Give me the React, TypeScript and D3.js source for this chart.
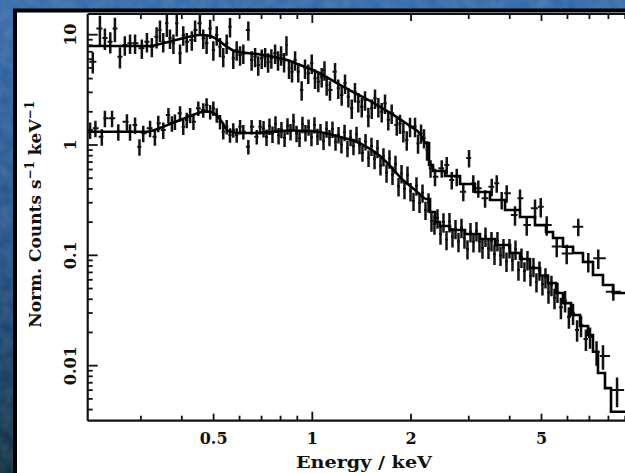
import React from 'react'
import * as d3 from 'd3'

const W = 625
const H = 473

// upper spectrum: bin centre (keV), normalised counts, fractional 1-sigma error
const upperEnergy = [
  0.214, 0.225, 0.233, 0.242, 0.250, 0.259, 0.268, 0.278, 0.288, 0.302,
  0.313, 0.324, 0.335, 0.343, 0.351, 0.360, 0.368, 0.377, 0.386, 0.395,
  0.404, 0.414, 0.429, 0.439, 0.454, 0.465, 0.476, 0.488, 0.499, 0.511,
  0.523, 0.535, 0.548, 0.561, 0.574, 0.588, 0.602, 0.616, 0.638, 0.653,
  0.669, 0.684, 0.701, 0.718, 0.733, 0.750, 0.770, 0.786, 0.803, 0.820,
  0.834, 0.849, 0.867, 0.886, 0.906, 0.928, 0.950, 0.972, 0.996, 1.019,
  1.043, 1.068, 1.089, 1.106, 1.132, 1.173, 1.200, 1.229, 1.258, 1.288,
  1.319, 1.349, 1.381, 1.415, 1.448, 1.482, 1.518, 1.553, 1.590, 1.628,
  1.666, 1.705, 1.746, 1.809, 1.851, 1.895, 1.941, 1.986, 2.057, 2.101,
  2.146, 2.191, 2.238, 2.294, 2.367, 2.481, 2.570, 2.662, 2.757, 2.887,
  3.006, 3.097, 3.208, 3.364, 3.525, 3.651, 3.781, 3.916, 4.151, 4.300,
  4.507, 4.778, 4.974, 5.186, 5.564, 5.968, 6.474, 6.945, 7.450, 8.279,
]
const upperCounts = [
  5.69, 11.4, 9.33, 8.64, 11.4, 6.32, 8.07, 8.36, 8.36, 7.53,
  8.64, 7.79, 9.59, 11.0, 8.64, 12.7, 9.27, 8.36, 12.7, 6.78,
  9.94, 8.64, 8.95, 11.0, 12.7, 9.27, 8.36, 11.4, 7.27, 9.94,
  7.79, 6.32, 8.36, 11.8, 6.11, 7.27, 6.55, 6.78, 11.0, 5.90,
  6.32, 5.31, 6.11, 6.32, 5.66, 6.15, 6.78, 5.90, 6.55, 5.69,
  8.07, 4.96, 4.62, 5.90, 4.62, 3.15, 4.96, 4.47, 5.51, 4.02,
  3.75, 4.16, 4.79, 3.50, 3.15, 4.62, 3.27, 2.84, 3.63, 2.74,
  2.15, 3.04, 2.47, 2.22, 2.56, 1.81, 2.15, 2.65, 2.22, 2.00,
  2.39, 1.69, 1.94, 1.52, 1.57, 1.32, 1.11, 1.47, 1.47, 1.04,
  1.28, 1.16, 0.90, 0.615, 0.516, 0.615, 0.659, 0.482, 0.516, 0.377,
  0.762, 0.450, 0.405, 0.329, 0.419, 0.450, 0.317, 0.365, 0.232, 0.329,
  0.188, 0.267, 0.276, 0.188, 0.120, 0.104, 0.182, 0.0875, 0.0939, 0.0468,
]
const upperErr = [
  0.22, 0.3, 0.22, 0.22, 0.25, 0.22, 0.2, 0.2, 0.2, 0.2,
  0.2, 0.2, 0.22, 0.22, 0.2, 0.25, 0.2, 0.2, 0.24, 0.2,
  0.2, 0.2, 0.2, 0.22, 0.22, 0.2, 0.2, 0.2, 0.2, 0.2,
  0.2, 0.2, 0.2, 0.2, 0.2, 0.2, 0.2, 0.2, 0.2, 0.2,
  0.2, 0.2, 0.2, 0.2, 0.2, 0.2, 0.2, 0.2, 0.2, 0.2,
  0.2, 0.2, 0.2, 0.2, 0.2, 0.2, 0.2, 0.2, 0.2, 0.2,
  0.2, 0.2, 0.2, 0.2, 0.2, 0.2, 0.2, 0.2, 0.2, 0.2,
  0.2, 0.2, 0.2, 0.2, 0.2, 0.2, 0.2, 0.2, 0.2, 0.2,
  0.2, 0.2, 0.2, 0.2, 0.2, 0.2, 0.2, 0.2, 0.2, 0.2,
  0.2, 0.2, 0.2, 0.18, 0.18, 0.18, 0.18, 0.18, 0.18, 0.18,
  0.18, 0.18, 0.18, 0.18, 0.18, 0.18, 0.18, 0.18, 0.2, 0.2,
  0.2, 0.2, 0.2, 0.2, 0.2, 0.2, 0.18, 0.2, 0.2, 0.17,
]
// upper model: left bin edge (keV), model counts
const upperModelEnergy = [
  0.2065, 0.320, 0.343, 0.368, 0.395, 0.424, 0.454, 0.4875, 0.516, 0.545,
  0.578, 0.630, 0.693, 0.770, 0.855, 0.917, 1.005, 1.093, 1.215, 1.350,
  1.50, 1.666, 1.825, 1.986, 2.131, 2.207, 2.270, 2.334, 2.539, 2.822,
  3.134, 3.483, 3.870, 4.300, 4.777, 5.161, 5.421, 5.815, 6.24, 6.691,
  7.178, 7.70, 8.261, 10,
]
const upperModelCounts = [
  7.90, 7.90, 8.23, 8.68, 9.14, 9.63, 9.94, 9.73, 8.95, 7.90,
  7.12, 6.82, 6.61, 6.28, 5.78, 5.31, 4.79, 4.22, 3.50, 2.96,
  2.51, 2.08, 1.757, 1.487, 1.258, 1.043, 0.659, 0.581, 0.524, 0.443,
  0.375, 0.317, 0.2575, 0.2225, 0.188, 0.1626, 0.1435, 0.1197, 0.1049, 0.0870,
  0.0663, 0.0538, 0.0455, 0.0455,
]

// lower spectrum
const lowerEnergy = [
  0.210, 0.218, 0.228, 0.233, 0.245, 0.256, 0.272, 0.278, 0.288, 0.297,
  0.305, 0.320, 0.331, 0.339, 0.351, 0.364, 0.373, 0.381, 0.395, 0.404,
  0.414, 0.424, 0.434, 0.449, 0.465, 0.476, 0.488, 0.499, 0.511, 0.523,
  0.535, 0.548, 0.561, 0.574, 0.588, 0.602, 0.616, 0.638, 0.653, 0.677,
  0.693,
  0.710, 0.725, 0.740, 0.756, 0.772, 0.789, 0.805, 0.823, 0.840, 0.858,
  0.876, 0.895, 0.914, 0.933, 0.953, 0.974, 0.994, 1.015, 1.037, 1.059,
  1.082, 1.105, 1.128, 1.152, 1.177, 1.202, 1.227, 1.254, 1.280, 1.308,
  1.335, 1.364, 1.393, 1.422, 1.453, 1.484,
  1.515, 1.548, 1.580, 1.614, 1.648, 1.684, 1.719, 1.756, 1.793, 1.832,
  1.871, 1.910, 1.951, 1.993, 2.035, 2.078, 2.123, 2.168, 2.214,
  2.261, 2.309, 2.358, 2.409, 2.460, 2.512, 2.566, 2.620, 2.676, 2.733,
  2.791, 2.851, 2.911, 2.973, 3.037, 3.101,
  3.167, 3.235, 3.303, 3.374, 3.446, 3.519, 3.594, 3.670, 3.749, 3.828,
  3.910, 3.993, 4.078, 4.165, 4.253, 4.344, 4.436, 4.531, 4.627, 4.726,
  4.826, 4.929,
  5.034, 5.141, 5.251, 5.362, 5.477, 5.593,
  5.73, 5.90, 6.06, 6.24, 6.42, 6.60, 6.83, 7.03,
  7.36, 7.70, 8.50,
]
const lowerCounts = [
  1.368, 1.417, 1.189, 1.746, 1.746, 1.320, 1.626, 1.320, 1.518, 0.965,
  1.277, 1.417, 1.189, 1.573, 1.368, 1.871, 1.573, 1.626, 1.939, 1.466,
  1.686, 1.871, 1.626, 2.151, 2.080, 2.310, 2.000, 2.151, 1.871, 1.626,
  1.320, 1.466, 1.232, 1.368, 1.232, 1.466, 1.320, 0.965, 1.466, 1.189,
  1.466,
  1.411, 1.182, 1.487, 1.258, 1.557, 1.217, 1.385, 1.157, 1.496, 1.326,
  1.640, 1.279, 1.157, 1.540, 1.298, 1.459, 1.177, 1.528, 1.202, 1.323,
  1.083, 1.402, 1.172, 1.397, 1.071, 1.243, 1.010, 1.304, 0.935, 1.177,
  0.975, 1.250, 0.993, 0.848, 1.076, 0.761,
  0.979, 0.745, 0.935, 0.652, 0.787, 0.563, 0.754, 0.537, 0.673, 0.422,
  0.553, 0.399, 0.538, 0.380, 0.311, 0.429, 0.298, 0.369, 0.2575,
  0.304, 0.2046, 0.1922, 0.2179, 0.1560, 0.2003, 0.1388, 0.2011, 0.1472, 0.1746,
  0.1334, 0.1790, 0.1432, 0.1143, 0.1636, 0.1326,
  0.1668, 0.1326, 0.1165, 0.1491, 0.1155, 0.1354, 0.1021, 0.1354, 0.1000, 0.1169,
  0.0882, 0.1169, 0.0897, 0.1133, 0.0736, 0.0959, 0.0721, 0.0910, 0.0657, 0.0790,
  0.0574, 0.0734,
  0.0548, 0.0632, 0.0461, 0.0539, 0.0411, 0.0467,
  0.0338, 0.0389, 0.0277, 0.0299, 0.0211, 0.0232, 0.0174, 0.0182,
  0.01328, 0.01222, 0.00601,
]
const lowerErr = [
  0.17, 0.17, 0.17, 0.17, 0.17, 0.17, 0.17, 0.17, 0.17, 0.17,
  0.17, 0.17, 0.17, 0.17, 0.17, 0.16, 0.16, 0.16, 0.16, 0.16,
  0.16, 0.16, 0.16, 0.15, 0.15, 0.15, 0.15, 0.15, 0.15, 0.15,
  0.15, 0.15, 0.15, 0.15, 0.15, 0.15, 0.15, 0.15, 0.15, 0.15,
  0.15,
  0.17, 0.17, 0.17, 0.17, 0.17, 0.17, 0.17, 0.17, 0.17, 0.17,
  0.17, 0.17, 0.17, 0.17, 0.17, 0.17, 0.17, 0.17, 0.17, 0.17,
  0.17, 0.17, 0.17, 0.17, 0.17, 0.17, 0.17, 0.17, 0.17, 0.17,
  0.17, 0.17, 0.17, 0.17, 0.17, 0.17,
  0.19, 0.19, 0.19, 0.19, 0.19, 0.19, 0.19, 0.19, 0.19, 0.19,
  0.19, 0.19, 0.19, 0.19, 0.19, 0.19, 0.19, 0.19, 0.19,
  0.2, 0.2, 0.2, 0.2, 0.2, 0.2, 0.2, 0.2, 0.2, 0.2,
  0.2, 0.2, 0.2, 0.2, 0.2, 0.2,
  0.2, 0.2, 0.2, 0.2, 0.2, 0.2, 0.2, 0.2, 0.2, 0.2,
  0.2, 0.2, 0.2, 0.2, 0.2, 0.2, 0.2, 0.2, 0.2, 0.2,
  0.2, 0.2,
  0.21, 0.21, 0.21, 0.21, 0.21, 0.21,
  0.22, 0.22, 0.22, 0.22, 0.22, 0.22, 0.22, 0.22,
  0.25, 0.25, 0.3,
]
const lowerModelEnergy = [
  0.2065, 0.3132, 0.343, 0.368, 0.395, 0.424, 0.454, 0.4808, 0.505, 0.5304,
  0.5534, 0.602, 0.669, 0.743, 0.855, 0.984, 1.093, 1.215, 1.350, 1.468,
  1.609, 1.738, 1.890, 2.057, 2.207, 2.286, 2.367, 2.452, 2.630, 2.922,
  3.247, 3.607, 4.009, 4.300, 4.613, 4.949, 5.234, 5.536, 5.815, 6.151,
  6.554, 6.932, 7.178, 7.434, 7.809, 8.146, 10,
]
const lowerModelCounts = [
  1.320, 1.320, 1.426, 1.550, 1.686, 1.832, 1.970, 2.012, 1.910, 1.616,
  1.339, 1.285, 1.285, 1.312, 1.353, 1.339, 1.285, 1.182, 1.087, 0.959,
  0.795, 0.632, 0.482, 0.391, 0.324, 0.247, 0.2003, 0.1843, 0.1696, 0.1560,
  0.1405, 0.1240, 0.1049, 0.0926, 0.0767, 0.0656, 0.0561, 0.0455, 0.0369, 0.0288,
  0.0229, 0.01896, 0.01336, 0.00857, 0.00626, 0.00382, 0.00382,
]

const xTickLabels = [0.5, 1, 2, 5]
const yTickLabels = [0.01, 0.1, 1, 10]
// below this energy the model bins are narrow enough to look smooth
const stepFrom = 2.2

const font = '"DejaVu Serif", serif'

export default function App() {
  const x = d3.scaleLog().domain([0.2065, 10]).range([87.7, 640.2])
  const y = d3.scaleLog().domain([0.00317, 15.4]).range([420.7, 14])
  const [x0, x1] = x.range()
  const [yb, yt] = y.range()

  const smooth = d3.line<[number, number]>().x(d => x(d[0])).y(d => y(d[1])).curve(d3.curveMonotoneX)
  const step = d3.line<[number, number]>().x(d => x(d[0])).y(d => y(d[1])).curve(d3.curveStepAfter)

  const modelPath = (es: number[], vs: number[]) => {
    const pts = es.map((e, i) => [e, vs[i]] as [number, number])
    const k = pts.findIndex(p => p[0] >= stepFrom)
    return (smooth(pts.slice(0, k + 1)) || '') + (step(pts.slice(k)) || '')
  }

  // bins run between geometric midpoints of neighbouring centres
  const crosses = (es: number[], vs: number[], rs: number[]) =>
    es.map((e, i) => {
      const lo = i > 0 ? Math.sqrt(es[i - 1] * e) : e * e / Math.sqrt(e * es[i + 1])
      const hi = i < es.length - 1 ? Math.sqrt(e * es[i + 1]) : e * e / Math.sqrt(es[i - 1] * e)
      const r = rs[i] ?? 0.18
      return {
        xl: x(lo), xr: x(hi), xc: x(e), yc: y(vs[i]),
        ylo: y(vs[i] * (1 - r)), yhi: y(vs[i] * (1 + r)),
      }
    })

  const pts = [
    ...crosses(upperEnergy, upperCounts, upperErr),
    ...crosses(lowerEnergy, lowerCounts, lowerErr),
  ]

  const xTicks = x.ticks()
  const yTicks = y.ticks()

  return (
    <div>
      <style>{'body{margin:0;}'}</style>
      <svg width={W} height={H} style={{ display: 'block' }}>
        <defs>
          <linearGradient id="bg" x1="0" y1="0" x2="0" y2="1">
            <stop offset="0" stopColor="#2d63a6" />
            <stop offset="0.45" stopColor="#1d4f88" />
            <stop offset="0.75" stopColor="#0f3a62" />
            <stop offset="1" stopColor="#052638" />
          </linearGradient>
          <filter id="mottle" x="0" y="0" width="100%" height="100%">
            <feTurbulence type="fractalNoise" baseFrequency="0.08" numOctaves="2" seed="3" />
            <feColorMatrix type="matrix" values="0 0 0 0 1  0 0 0 0 1  0 0 0 0 1  0 0 0 0.18 0" />
          </filter>
          <clipPath id="plot">
            <rect x={x0} y={yt} width={x1 - x0} height={yb - yt} />
          </clipPath>
        </defs>

        <rect width={W} height={H} fill="url(#bg)" />
        <rect width={W} height={H} filter="url(#mottle)" />
        <rect x={15} y={10.5} width={W + 20} height={H + 20} fill="#fff" stroke="#000" strokeWidth={4} />

        <g clipPath="url(#plot)">
          <g stroke="#111">
            {pts.map((p, i) => (
              <g key={i}>
                <line x1={p.xl} x2={p.xr} y1={p.yc} y2={p.yc} strokeWidth={2} />
                <line x1={p.xc} x2={p.xc} y1={p.ylo} y2={p.yhi} strokeWidth={2.5} />
              </g>
            ))}
          </g>
          <path d={modelPath(upperModelEnergy, upperModelCounts)} fill="none" stroke="#000" strokeWidth={2.6} />
          <path d={modelPath(lowerModelEnergy, lowerModelCounts)} fill="none" stroke="#000" strokeWidth={2.6} />
        </g>

        {/* frame */}
        <g stroke="#111" strokeWidth={2.2} fill="none">
          <line x1={x0} x2={x1} y1={yb} y2={yb} />
          <line x1={x0} x2={x1} y1={yt} y2={yt} />
          <line x1={x0} x2={x0} y1={yt} y2={yb} />
        </g>

        <g stroke="#111" strokeWidth={1.8}>
          {xTicks.map(t => {
            const len = t === 1 || t === 10 ? 9 : xTickLabels.includes(t) ? 7 : 5
            return (
              <g key={'x' + t}>
                <line x1={x(t)} x2={x(t)} y1={yb} y2={yb - len} />
                <line x1={x(t)} x2={x(t)} y1={yt} y2={yt + len} />
              </g>
            )
          })}
          {yTicks.map(t => {
            const len = yTickLabels.includes(t) ? 10 : 5
            return <line key={'y' + t} x1={x0} x2={x0 + len} y1={y(t)} y2={y(t)} />
          })}
        </g>

        <g fontFamily={font} fontWeight="bold" fontSize={16} fill="#111">
          {xTickLabels.map(t => (
            <text key={'xl' + t} x={x(t)} y={444} textAnchor="middle">{t}</text>
          ))}
          {yTickLabels.map(t => (
            <text key={'yl' + t} transform={`translate(70,${y(t)}) rotate(-90)`} textAnchor="middle" dominantBaseline="central">{t}</text>
          ))}
          <text x={(x0 + x1) / 2} y={468} textAnchor="middle" fontSize={16} textLength={136} lengthAdjust="spacingAndGlyphs">Energy / keV</text>
          <text transform={`translate(41,${(yt + yb) / 2 - 3}) rotate(-90)`} textAnchor="middle" fontSize={17}>
            Norm. Counts s<tspan fontSize={12} dy={-7}>−1</tspan>
            <tspan dy={7}> keV</tspan><tspan fontSize={12} dy={-7}>−1</tspan>
          </text>
        </g>
      </svg>
    </div>
  )
}
